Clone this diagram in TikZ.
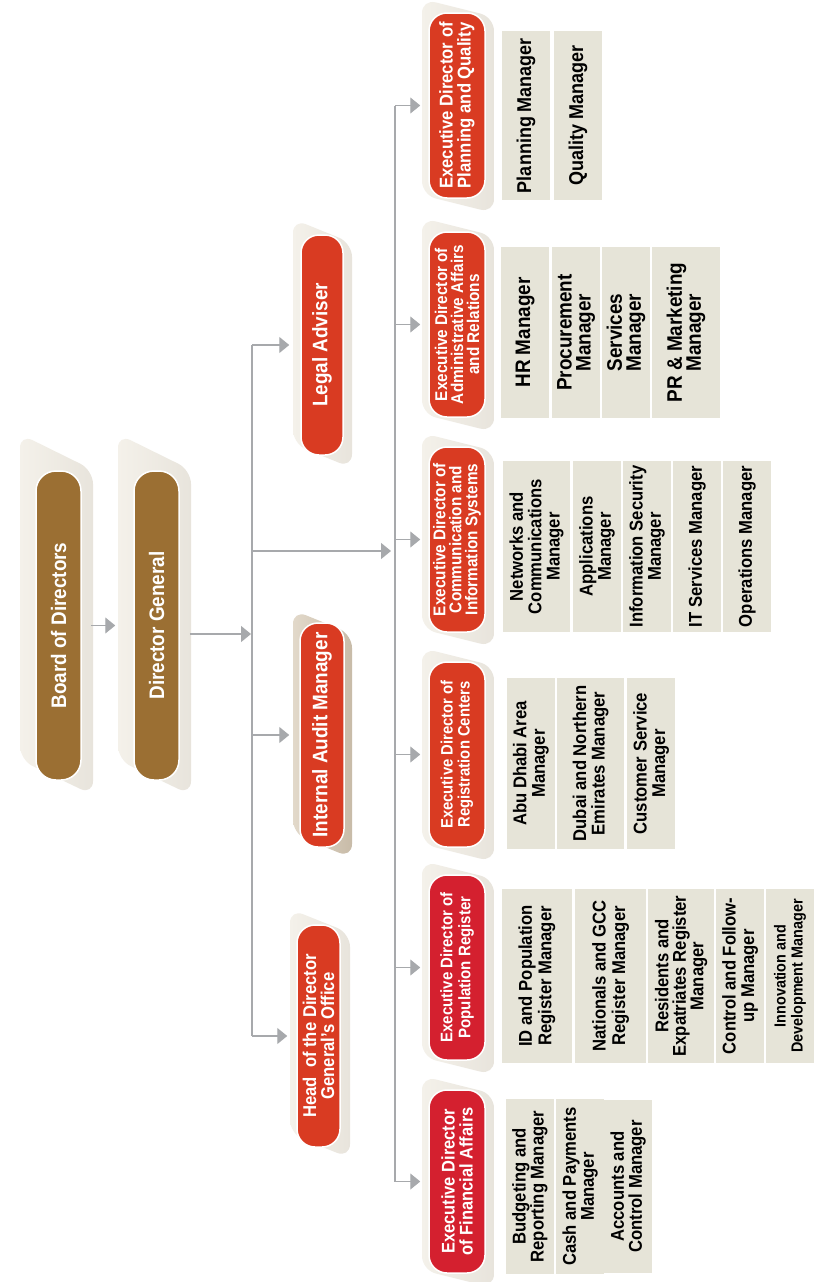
\documentclass[tikz,border=0pt]{standalone}
\usepackage{fontspec}
\usetikzlibrary{arrows.meta}
\newfontfamily\nf[FakeStretch=0.9]{Liberation Sans}
\definecolor{brownc}{HTML}{9B6F33}
\definecolor{redc}{HTML}{D93B22}
\definecolor{crimc}{HTML}{D4202F}
\definecolor{mgrc}{HTML}{E6E4D8}
\definecolor{shl}{HTML}{F4F1EA}
\definecolor{shr}{HTML}{E8E4DC}
\definecolor{aul}{HTML}{E2D9CA}
\definecolor{aur}{HTML}{C8BBA8}
\definecolor{linec}{HTML}{A7A9AC}
\newcommand\shad[7]{\shade[#7, rounded corners=14pt] (#1,#3) -- (#2,#4) -- (#2,#6) -- (#1,#5) -- cycle;}
\begin{document}
\begin{tikzpicture}[x=1pt,y=-1pt,
  fs/.style 2 args={font=\nf\bfseries\fontsize{#1}{#2}\selectfont},
  inner/.style={rotate=90, rounded corners=18pt, draw=white, line width=1.5pt, text=white, align=center, inner sep=0pt},
  brownbox/.style={inner, fill=brownc, rounded corners=20pt},
  redbox/.style={inner, fill=redc},
  crimbox/.style={inner, fill=crimc},
  exec/.style={minimum width=185pt, minimum height=56pt},
  mgr/.style={rotate=90, fill=mgrc, text=black, align=center, inner sep=0pt},
  lightsh/.style={left color=shl, right color=shr},
  audsh/.style={left color=aul, right color=aur},
  ln/.style={draw=linec, line width=1.2pt},
  arr/.style={ln, -{Triangle[length=10pt,width=16pt]}}]
\useasboundingbox (0,0) rectangle (826,1282);
\fill[white] (0,0) rectangle (826,1282);

% shadows
\shad{20}{93}{434}{470}{760}{795}{lightsh}
\shad{118}{191}{434}{470}{760}{795}{lightsh}
\shad{293}{352}{219}{243}{444}{468}{lightsh}
\shad{293}{352}{610}{634}{834}{858}{audsh}
\shad{290}{350}{909}{933}{1134}{1158}{lightsh}
\shad{422}{494}{-1}{17}{195}{213}{lightsh}
\shad{422}{494}{218}{236}{414}{432}{lightsh}
\shad{422}{494}{433}{451}{629}{647}{lightsh}
\shad{422}{494}{648}{666}{844}{862}{lightsh}
\shad{422}{494}{861}{879}{1057}{1075}{lightsh}
\shad{422}{494}{1076}{1094}{1270}{1288}{lightsh}

% top levels
\node[brownbox, fs={21}{21}, minimum width=309pt, minimum height=45pt] (board) at (58.5,625.5) {Board of Directors};
\node[brownbox, fs={21}{21}, minimum width=309pt, minimum height=45pt] (dg) at (156.5,625.5) {Director General};
\node[redbox, fs={21}{21}, minimum width=220pt, minimum height=42pt] (legal) at (322,345) {Legal Adviser};
\node[redbox, fs={21}{21}, minimum width=224pt, minimum height=44pt] (audit) at (322,735) {Internal Audit Manager};
\node[redbox, fs={18.5}{18}, minimum width=222pt, minimum height=43pt] (head) at (318.5,1036) {Head~ of the Director\\General’s Office};

% executive directors
\node[redbox, exec, fs={18.5}{18}] (plan) at (457,105.5) {Executive Director of\\Planning and Quality};
\node[redbox, exec, fs={17}{16}] (admin) at (457,324.5) {Executive Director of\\Administrative Affairs\\and Relations};
\node[redbox, exec, fs={17}{16}] (comm) at (457,539.5) {Executive Director of\\Communication and\\Information Systems};
\node[redbox, exec, fs={16.5}{17}] (reg) at (457,754.5) {Executive Director of\\Registration Centers};
\node[crimbox, exec, fs={16.7}{18}] (pop) at (457,967.5) {Executive Director of\\Population Register};
\node[crimbox, exec, fs={18.3}{18}, minimum width=183pt] (fin) at (457,1181.5) {Executive Director\\of Financial Affairs};

% managers - planning
\node[mgr, fs={20}{19}, minimum width=169pt, minimum height=48pt] (pm1) at (526,115.5) {Planning Manager};
\node[mgr, fs={20}{19}, minimum width=169pt, minimum height=48pt] (pm2) at (578,115.5) {Quality Manager};
% admin
\node[mgr, fs={21}{19}, minimum width=171pt, minimum height=48pt] (am1) at (525,332.5) {HR Manager};
\node[mgr, fs={21}{19}, minimum width=171pt, minimum height=48pt] (am2) at (576,332.5) {Procurement\\Manager};
\node[mgr, fs={21}{19}, minimum width=171pt, minimum height=48pt] (am3) at (626,332.5) {Services\\Manager};
\node[mgr, fs={21}{19}, minimum width=171pt, minimum height=68pt] (am4) at (686,332.5) {PR \& Marketing\\Manager};
% comm
\node[mgr, fs={18.5}{18.3}, minimum width=171pt, minimum height=67pt] (cm1) at (536.5,546.5) {Networks and\\Communications\\Manager};
\node[mgr, fs={18.5}{18.3}, minimum width=171pt, minimum height=48pt] (cm2) at (597,546.5) {Applications\\Manager};
\node[mgr, fs={18.5}{18.3}, minimum width=171pt, minimum height=48pt] (cm3) at (647,546.5) {Information Security\\Manager};
\node[mgr, fs={18.5}{18.3}, minimum width=171pt, minimum height=48pt] (cm4) at (697,546.5) {IT Services Manager};
\node[mgr, fs={18.5}{18.3}, minimum width=171pt, minimum height=48pt] (cm5) at (747,546.5) {Operations Manager};
% registration
\node[mgr, fs={18.5}{18.5}, minimum width=171pt, minimum height=48pt] (rm1) at (531,763.5) {Abu Dhabi Area\\Manager};
\node[mgr, fs={18.5}{18.5}, minimum width=171pt, minimum height=67pt] (rm2) at (590.5,763.5) {Dubai and Northern\\Emirates Manager};
\node[mgr, fs={18.5}{18.5}, minimum width=171pt, minimum height=48pt] (rm3) at (651,763.5) {Customer Service\\Manager};
% population
\node[mgr, fs={18.5}{19.5}, minimum width=174pt, minimum height=70pt] (qm1) at (537,976) {ID and Population\\Register Manager};
\node[mgr, fs={18.5}{19.5}, minimum width=174pt, minimum height=71pt] (qm2) at (610.5,976) {Nationals and GCC\\Register Manager};
\node[mgr, fs={18.5}{17.5}, minimum width=174pt, minimum height=66pt] (qm3) at (681,976) {Residents and\\Expatriates Register\\Manager};
\node[mgr, fs={18.5}{18.5}, minimum width=174pt, minimum height=48pt] (qm4) at (740,976) {Control and Follow-\\up Manager};
\node[mgr, fs={16}{17}, minimum width=174pt, minimum height=48pt] (qm5) at (790,976) {Innovation and\\Development Manager};
% finance
\node[mgr, fs={18.5}{18}, minimum width=175pt, minimum height=48pt] (fm1) at (530,1186.5) {Budgeting and\\Reporting Manager};
\node[mgr, fs={18.5}{18}, minimum width=175pt, minimum height=48pt] (fm2) at (580,1186.5) {Cash and Payments\\Manager};
\node[mgr, fs={18.5}{18}, minimum width=173pt, minimum height=48pt] (fm3) at (628,1186.5) {Accounts and\\Control Manager};

% connectors
\coordinate (sp1) at (252,551);
\coordinate (sp2) at (395,551);
\coordinate (dgo) at ([yshift=-8.5pt]dg.south);
\draw[ln] (sp1 |- legal.center) -- (sp1 |- head.center);
\draw[ln] (sp2 |- plan.center) -- (sp2 |- fin.center);
\draw[arr, shorten <=9pt, shorten >=18pt] (board.south) -- (dg.north);
\draw[arr, shorten <=10pt, shorten >=1pt] (dgo) -- (dgo -| sp1);
\draw[arr, shorten >=4pt] (sp1) -- (sp2);
\draw[arr, shorten >=11pt] (sp1 |- legal.center) -- (legal.north);
\draw[arr, shorten >=10pt] (sp1 |- audit.center) -- (audit.north);
\draw[arr, shorten >=9pt] (sp1 |- head.center) -- (head.north);
\foreach \n in {plan,admin,comm,reg,pop,fin}{
  \draw[arr, shorten >=8pt] (sp2 |- \n.center) -- (\n.north);
}
\end{tikzpicture}
\end{document}
